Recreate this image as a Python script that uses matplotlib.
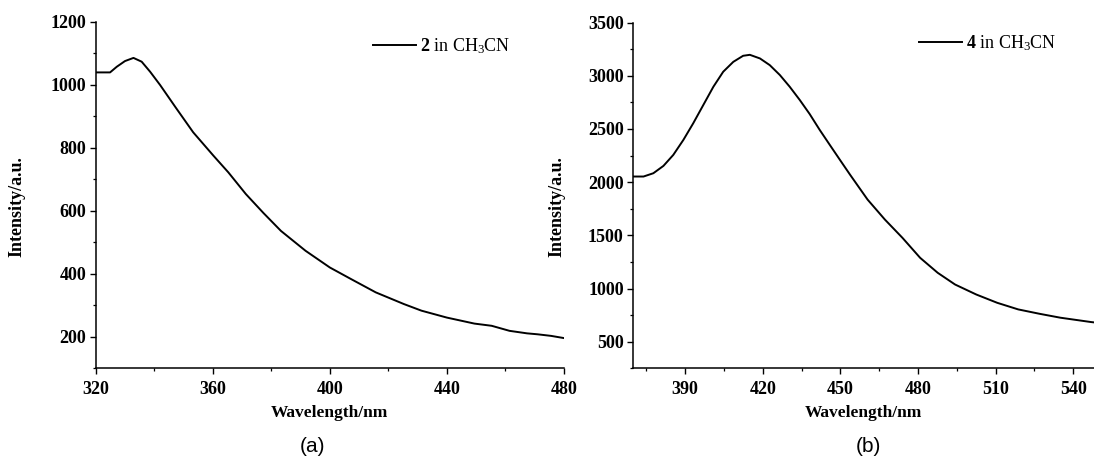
import matplotlib

matplotlib.use("Agg")
import matplotlib.pyplot as plt
from matplotlib.ticker import MultipleLocator, AutoMinorLocator

# panel (a): 2 in CH3CN
wl_a = [320, 324.9, 327.2, 330, 332.9, 335.7, 338.6, 342, 347.3, 353.3, 360.2,
        365.3, 371.3, 377.3, 383.3, 391.7, 400, 407.3, 415.7, 425.3, 431.3,
        440, 449.4, 455.3, 461.4, 467.4, 471, 475.6, 480]
int_a = [1039, 1039, 1057, 1075, 1085, 1073, 1041, 999, 928, 849, 775,
         722, 653, 593, 536, 473, 420, 383, 341, 304, 283,
         261, 242, 235, 219, 211, 208, 203, 196]

# panel (b): 4 in CH3CN
wl_b = [370, 373.9, 377.7, 381.6, 385.4, 389.3, 393.1, 397, 400.9, 404.7,
        408.6, 412.4, 415, 418.9, 422.7, 426.6, 430.4, 434.3, 438.1, 442,
        445.9, 449.8, 453.7, 460.5, 467.2, 474, 480.8, 487.6, 494.3, 502.5,
        510.6, 518.7, 526.9, 535, 546.9, 548]
int_b = [2053, 2053, 2084, 2153, 2256, 2397, 2553, 2725, 2897, 3038,
         3131, 3188, 3197, 3163, 3100, 3007, 2897, 2772, 2641, 2491,
         2350, 2210, 2071, 1836, 1648, 1476, 1289, 1148, 1038, 944,
         866, 804, 763, 726, 685, 682]

plt.rcParams["font.family"] = ["Liberation Serif", "DejaVu Serif"]
plt.rcParams["mathtext.fontset"] = "custom"
plt.rcParams["mathtext.rm"] = "Liberation Serif"
plt.rcParams["mathtext.bf"] = "Liberation Serif:bold"
plt.rcParams["mathtext.it"] = "Liberation Serif:italic"

fig = plt.figure(figsize=(10.94, 4.61), dpi=100)
ax_a = fig.add_axes([0.0875, 0.201, 0.428, 0.752])
ax_b = fig.add_axes([0.579, 0.201, 0.421, 0.750])

panels = [
    (ax_a, wl_a, int_a, (320, 480), (100, 1200), 40, 200, r"$\mathbf{2}$ in CH$_3$CN", (0.592, 0.928), -0.151, "(a)", 0.286),
    (ax_b, wl_b, int_b, (370, 548), (250, 3500), 30, 500, r"$\mathbf{4}$ in CH$_3$CN", (0.620, 0.941), -0.148, "(b)", 0.794),
]

for ax, x, y, xlim, ylim, xstep, ystep, label, leg_pos, ylab_x, tag, tag_x in panels:
    ax.plot(x, y, color="black", lw=1.4, label=label)
    ax.set_xlim(*xlim)
    ax.set_ylim(*ylim)
    ax.xaxis.set_major_locator(MultipleLocator(xstep))
    ax.yaxis.set_major_locator(MultipleLocator(ystep))
    ax.xaxis.set_minor_locator(AutoMinorLocator(2))
    ax.yaxis.set_minor_locator(AutoMinorLocator(2))
    ax.spines[["top", "right"]].set_visible(False)
    for side in ("left", "bottom"):
        ax.spines[side].set_linewidth(1.1)
    ax.tick_params(which="major", direction="out", length=4, width=1.0, labelsize=13, pad=3)
    ax.tick_params(which="minor", direction="out", length=2.5, width=0.9)
    ax.tick_params(axis="x", which="major", pad=5)
    for t in ax.get_xticklabels() + ax.get_yticklabels():
        t.set_fontweight("bold")
    ax.set_xlabel("Wavelength/nm", fontsize=12.5, fontweight="bold", labelpad=5)
    ax.set_ylabel("Intensity/a.u.", fontsize=13, fontweight="bold")
    ax.yaxis.set_label_coords(ylab_x, 0.468)
    ax.legend(frameon=False, loc="center left", bbox_to_anchor=leg_pos, borderpad=0,
              borderaxespad=0, handlelength=2.4, handletextpad=0.2,
              prop={"family": "Liberation Serif", "size": 13})
    fig.text(tag_x, 0.032, tag, ha="center", va="center", fontsize=15,
             family="Liberation Sans")

fig.savefig("out.png", dpi=100)
plt.close(fig)
